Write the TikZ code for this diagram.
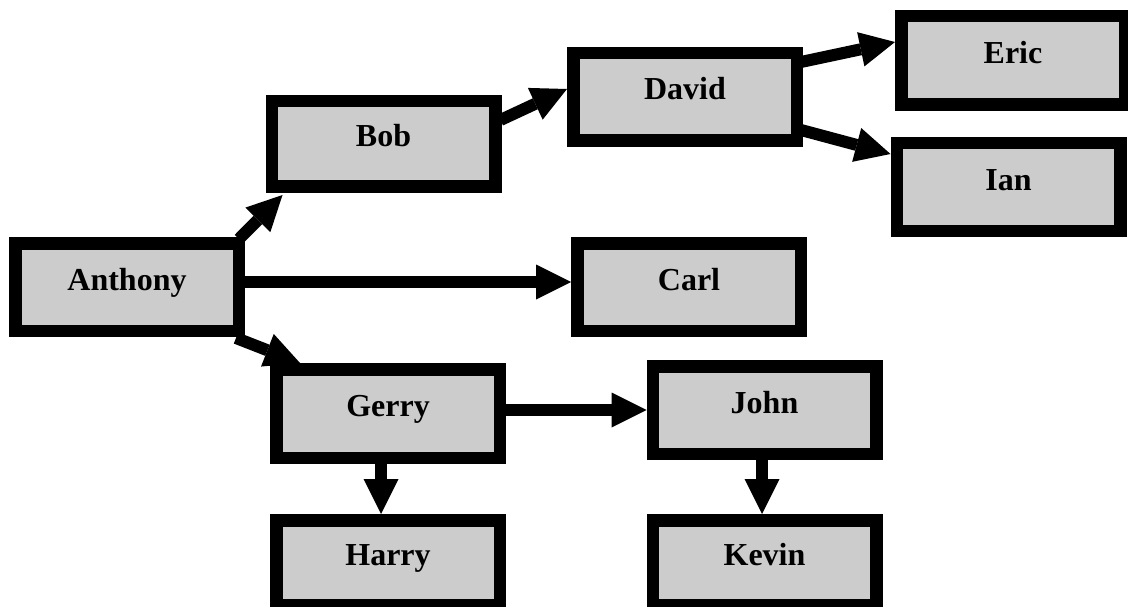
\documentclass[tikz,border=0pt]{standalone}
\usepackage{fontspec}
\setmainfont{Liberation Serif}
\usetikzlibrary{arrows.meta,calc}
\definecolor{boxgray}{RGB}{204,204,204}
\tikzset{
  person/.style={draw=black, line width=12.5pt, fill=boxgray,
    minimum width=223.5pt, minimum height=87.5pt, inner sep=0pt,
    font=\fontsize{32}{36}\selectfont\bfseries,
    text height=20pt, text depth=14pt},
  link/.style={draw=black, line width=12pt,
    -{Triangle[length=35pt,width=35pt,line width=0pt]}},
}
\begin{document}
\begin{tikzpicture}[x=1pt,y=-1pt]
\useasboundingbox (0,0) rectangle (1128,607);
\node[person] (A) at (127,287) {Anthony};
\node[person, minimum height=85.5pt] (B) at (383.5,144) {Bob};
\node[person] (D) at (685,97) {David};
\node[person, minimum height=88.5pt] (E) at (1013,60.5) {Eric};
\node[person] (I) at (1008.5,187) {Ian};
\node[person] (C) at (689,287) {Carl};
\node[person, minimum height=88.5pt] (G) at (388,413.5) {Gerry};
\node[person] (J) at (764.5,410) {John};
\node[person, minimum height=84.5pt] (H) at (388,562.5) {Harry};
\node[person, minimum height=84.5pt] (K) at (764.5,562.5) {Kevin};

\draw[link] ($(A.north east)+(-6,2)$) -- ($(B.south west)+(17,2)$);
\draw[link] ($(A.east)+(-2,-5)$) -- ($(C.west)+(0,-5)$);
\draw[link] ($(A.south east)+(-9,1)$) -- ($(G.north west)+(30,0)$);
\draw[link] ($(B.east)+(-1,-24)$) -- ($(D.west)+(0,-8)$);
\draw[link] ($(D.east)+(-2,-35)$) -- ($(E.west)+(0,-18.5)$);
\draw[link] ($(D.east)+(-2,33)$) -- ($(I.west)+(0,-33)$);
\draw[link] ($(G.east)+(-2,-3.5)$) -- (J.west);
\draw[link] ($(G.south)+(-7,0)$) -- ($(H.north)+(-7,0)$);
\draw[link] ($(J.south)+(-2.5,0)$) -- ($(K.north)+(-2.5,0)$);
\end{tikzpicture}
\end{document}
